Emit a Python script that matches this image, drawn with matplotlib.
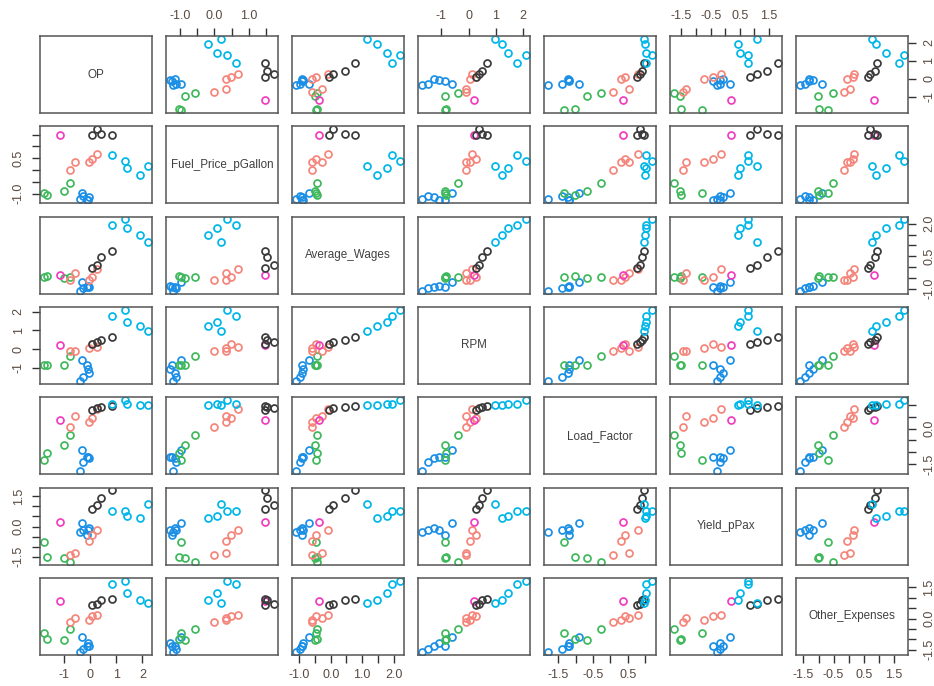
import matplotlib
matplotlib.use("Agg")
import matplotlib.pyplot as plt

# ================== DATA ==================
NAMES = ["OP", "Fuel_Price_pGallon", "Average_Wages", "RPM",
         "Load_Factor", "Yield_pPax", "Other_Expenses"]

GROUP = (["blue"] * 6 + ["green"] * 4 + ["salmon"] * 5 + ["magenta"]
         + ["black"] * 4 + ["cyan"] * 5)

OP = [-0.37, -0.28, -0.04, -0.09, -0.12, -0.32, -0.98, -1.66, -1.75, -0.78,
      -0.57, -0.76, -0.04, 0.255, 0.08, -1.16, 0.09, 0.255, 0.44, 0.86,
      2.21, 1.90, 1.41, 0.85, 1.33]
FUEL = [-1.21, -1.11, -1.14, -1.29, -1.25, -0.97, -0.87, -1.04, -0.97, -0.57,
        0.33, -0.02, 0.33, 0.68, 0.47, 1.48, 1.48, 1.73, 1.54, 1.48,
        0.19, -0.20, 0.08, 0.64, 0.36]
WAGES = [-1.10, -0.99, -0.91, -0.88, -0.91, -0.68, -0.50, -0.44, -0.46, -0.45,
         -0.27, -0.60, -0.60, -0.075, -0.46, -0.37, -0.04, 0.08, 0.47, 0.76,
         1.16, 1.46, 1.80, 1.95, 2.20]
RPM = [-1.70, -1.48, -1.26, -1.08, -0.86, -0.59, -0.86, -0.83, -0.87, -0.39,
       -0.075, -0.08, 0.05, 0.12, 0.28, 0.21, 0.27, 0.38, 0.49, 0.67,
       0.98, 1.21, 1.43, 1.79, 2.10]
LF = [-1.79, -1.40, -1.23, -1.19, -1.18, -0.91, -0.67, -1.02, -1.33, -0.28,
      0.525, 0.074, 0.29, 0.80, 0.43, 0.355, 0.77, 0.86, 0.92, 0.96,
      0.97, 1.00, 1.01, 1.03, 1.19]
YIELD = [-0.29, -0.19, -0.08, -0.19, -0.41, 0.16, -1.55, -1.52, -0.78, -1.75,
         -1.34, -1.44, -0.74, -0.16, -0.41, 0.21, 0.85, 1.07, 1.42, 1.80,
         1.10, 0.44, 0.52, 0.79, 0.79]
OTHER = [-1.61, -1.45, -1.33, -1.20, -1.30, -0.90, -1.03, -0.98, -0.69, -0.51,
         0.05, -0.15, -0.06, 0.18, 0.135, 0.83, 0.65, 0.72, 0.88, 0.93,
         0.77, 0.91, 1.23, 1.67, 1.83]

# tick values and labels for each variable
INT_TICKS = [-1, 0, 1, 2]
INT_LABELS = ["-1", "0", "1", "2"]
FUEL_TICKS = [-1.0, -0.5, 0.0, 0.5, 1.0, 1.5]
WAGE_TICKS = [-1.0, -0.5, 0.0, 0.5, 1.0, 1.5, 2.0]
LF_TICKS = [-1.5, -1.0, -0.5, 0.0, 0.5, 1.0]
YIELD_TICKS = [-1.5, -1.0, -0.5, 0.0, 0.5, 1.0, 1.5]
OTHER_TICKS = [-1.5, -1.0, -0.5, 0.0, 0.5, 1.0, 1.5]

COLORS = {
    "blue": "#1b8fe6",
    "cyan": "#00b6e8",
    "green": "#3fb85c",
    "salmon": "#f5857b",
    "magenta": "#f23cbf",
    "black": "#3a3a3a",
}

COLUMNS = [OP, FUEL, WAGES, RPM, LF, YIELD, OTHER]
TICKS = [INT_TICKS, FUEL_TICKS, WAGE_TICKS, INT_TICKS, LF_TICKS, YIELD_TICKS, OTHER_TICKS]
LABELS = [INT_LABELS, None, None, INT_LABELS, None, None, None]
X_STEP = [1, 2, 2, 1, 2, 2, 2]
Y_STEP = [1, 3, 3, 1, 3, 3, 3]

# ================== LAYOUT ==================
W, H = 934, 686
LEFT0, COL_GAP, PW = 40, 126.0, 112
TOP0, ROW_GAP, PH = 36, 90.3, 77
TXT = "#5a4a40"
FONT = "Liberation Sans"


def limits(v):
    lo, hi = min(v), max(v)
    pad = 0.04 * (hi - lo)
    return lo - pad, hi + pad


def tick_labels(k, step):
    t = TICKS[k]
    base = LABELS[k] if LABELS[k] else [f"{x:.1f}" for x in t]
    return [s if i % step == 0 else "" for i, s in enumerate(base)]


fig = plt.figure(figsize=(W / 100, H / 100), dpi=100)
n = len(NAMES)

for i in range(n):
    for j in range(n):
        x0 = LEFT0 + j * COL_GAP
        y0 = TOP0 + i * ROW_GAP
        ax = fig.add_axes([x0 / W, (H - y0 - PH) / H, PW / W, PH / H])
        ax.set_xlim(*limits(COLUMNS[j]))
        ax.set_ylim(*limits(COLUMNS[i]))

        if i == j:
            ax.text(0.5, 0.5, NAMES[i], transform=ax.transAxes, ha="center",
                    va="center", fontsize=8.4, family=FONT, color="#404040")
        else:
            for xv, yv, g in zip(COLUMNS[j], COLUMNS[i], GROUP):
                ax.plot(xv, yv, "o", mfc="none", mec=COLORS[g], ms=5.0, mew=1.25)

        for s in ax.spines.values():
            s.set_color("#555555")
            s.set_linewidth(1.1)

        ax.tick_params(length=0, labelbottom=False, labelleft=False)
        ax.set_xticks([])
        ax.set_yticks([])

        # R pairs style alternating axes
        top = (i == 0 and j % 2 == 1)
        bottom = (i == n - 1 and j % 2 == 0)
        left = (j == 0 and i % 2 == 1)
        right = (j == n - 1 and i % 2 == 0)

        if top or bottom:
            ax.set_xticks(TICKS[j])
            ax.set_xticklabels(tick_labels(j, X_STEP[j]), fontsize=9,
                               family=FONT, color=TXT)
            ax.tick_params(axis="x", length=6, width=1.0, color="#333333",
                           pad=4, top=top, labeltop=top,
                           bottom=bottom, labelbottom=bottom)
        if left or right:
            ax.set_yticks(TICKS[i])
            ax.set_yticklabels(tick_labels(i, Y_STEP[i]), fontsize=9,
                               family=FONT, color=TXT, rotation=90, va="center")
            ax.tick_params(axis="y", length=6, width=1.0, color="#333333",
                           pad=5, left=left, labelleft=left,
                           right=right, labelright=right)

fig.savefig("out.png", dpi=100)
plt.close(fig)
